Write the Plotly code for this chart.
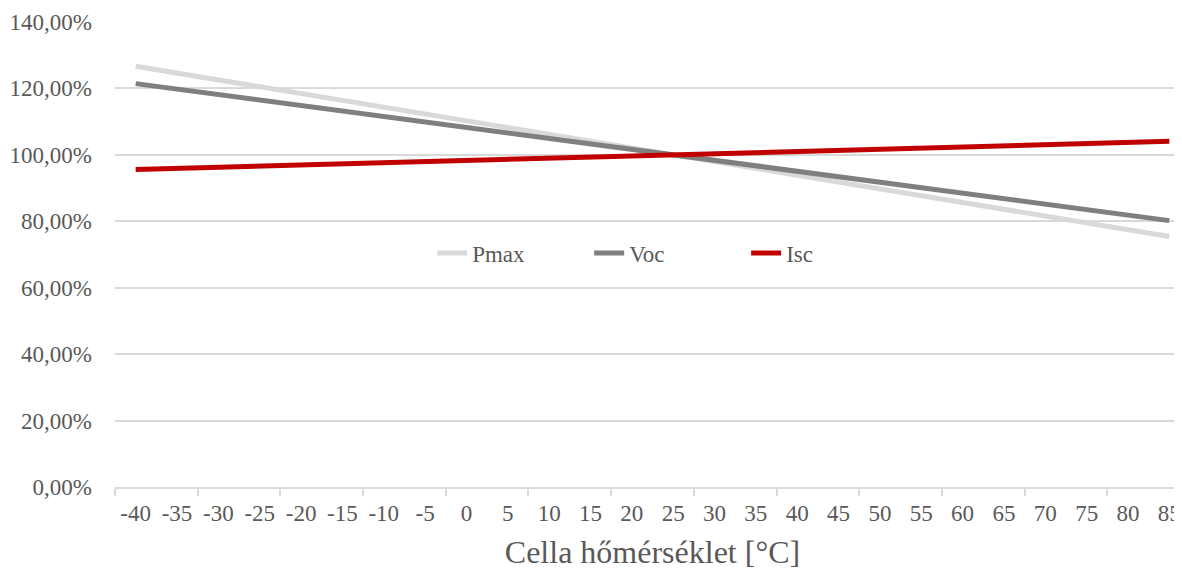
import plotly.graph_objects as go

# Cella hőmérséklet [°C]
temps = [-40, -35, -30, -25, -20, -15, -10, -5, 0, 5, 10, 15, 20,
         25, 30, 35, 40, 45, 50, 55, 60, 65, 70, 75, 80, 85]
temp_labels = ["-40", "-35", "-30", "-25", "-20", "-15", "-10", "-5", "0", "5",
               "10", "15", "20", "25", "30", "35", "40", "45", "50", "55",
               "60", "65", "70", "75", "80", "85"]

# relatív értékek 25 °C-hoz képest [%]
pmax = [126.65, 124.6, 122.55, 120.5, 118.45, 116.4, 114.35, 112.3, 110.25,
        108.2, 106.15, 104.1, 102.05, 100.0, 97.95, 95.9, 93.85, 91.8,
        89.75, 87.7, 85.65, 83.6, 81.55, 79.5, 77.45, 75.4]
voc = [121.45, 119.8, 118.15, 116.5, 114.85, 113.2, 111.55, 109.9, 108.25,
       106.6, 104.95, 103.3, 101.65, 100.0, 98.35, 96.7, 95.05, 93.4,
       91.75, 90.1, 88.45, 86.8, 85.15, 83.5, 81.85, 80.2]
isc = [95.58, 95.92, 96.26, 96.6, 96.94, 97.28, 97.62, 97.96, 98.3,
       98.64, 98.98, 99.32, 99.66, 100.0, 100.34, 100.68, 101.02, 101.36,
       101.7, 102.04, 102.38, 102.72, 103.06, 103.4, 103.74, 104.08]

series = [("Pmax", pmax, "#d9d9d9"), ("Voc", voc, "#7f7f7f"), ("Isc", isc, "#c00000")]

FONT = "Liberation Serif, Times New Roman, serif"

fig = go.Figure()
for name, vals, color in series:
    fig.add_trace(go.Scatter(
        x=temps, y=vals, name=name, mode="lines",
        line=dict(color=color, width=5),
    ))

# az oldal 8 px-es body margója miatt a margók ennyivel kisebbek
fig.update_layout(
    width=1182, height=570,
    margin=dict(l=107, r=0, t=14, b=91),
    paper_bgcolor="white", plot_bgcolor="white",
    separators=",.",
    font=dict(family=FONT, size=23, color="#595959"),
    showlegend=True,
    legend=dict(
        orientation="h", x=0.295, y=0.503, xanchor="left", yanchor="middle",
        bgcolor="rgba(0,0,0,0)", entrywidth=112, entrywidthmode="pixels",
        font=dict(family=FONT, size=23, color="#595959"),
    ),
)

fig.update_xaxes(
    range=[-42.5, 87.5], tickmode="array", tickvals=temps, ticktext=temp_labels,
    ticks="", showgrid=False, zeroline=False, automargin=False,
    showline=True, linecolor="#d9d9d9", linewidth=1.5,
    ticklabelstandoff=5,
    minor=dict(tickmode="linear", tick0=-42.5, dtick=10, ticks="outside",
               ticklen=7, tickcolor="#d9d9d9", tickwidth=1.5, showgrid=False),
    title=dict(text="Cella hőmérséklet [°C]", font=dict(family=FONT, size=32, color="#595959"), standoff=15),
)

fig.update_yaxes(
    range=[0, 140], tickmode="linear", tick0=0, dtick=20,
    tickformat=".2f", ticksuffix="%", automargin=False,
    showgrid=True, gridcolor="#d9d9d9", gridwidth=1.5,
    zeroline=False, showline=False, ticks="", ticklabelstandoff=22,
)

fig.write_html("out.html")
